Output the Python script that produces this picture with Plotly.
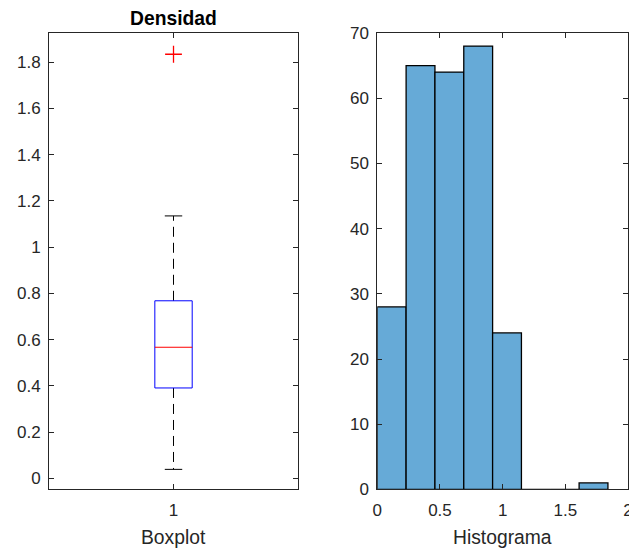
import plotly.graph_objects as go

# Summary statistics of the density sample (boxplot)
box_position = [1]
q1 = [0.391]
median = [0.567]
q3 = [0.768]
whisker_low = [0.039]
whisker_high = [1.135]
outliers = [1.834]

# Histogram of the same sample
bin_edges = [0.0, 0.23, 0.46, 0.69, 0.92, 1.15, 1.38, 1.61, 1.84]
bin_counts = [28, 65, 64, 68, 24, 0, 0, 1]

box_tickvals = [1]
box_ticktext = ["1"]
box_yticks = [0, 0.2, 0.4, 0.6, 0.8, 1, 1.2, 1.4, 1.6, 1.8]
hist_xticks = [0, 0.5, 1, 1.5, 2]
hist_yticks = [0, 10, 20, 30, 40, 50, 60, 70]

AX = "#262626"
FONT = "Liberation Sans, Arial, sans-serif"
BLUE = "#66AAD7"
TICK_SIZE = 17
LABEL_SIZE = 19.3

fig = go.Figure()

# ---- boxplot drawn from its statistics ----
pos = box_position[0]
half_box = 0.075
half_cap = 0.035

# dashed whiskers
fig.add_trace(go.Scatter(
    x=[pos, pos, None, pos, pos],
    y=[q3[0], whisker_high[0], None, q1[0], whisker_low[0]],
    mode="lines", line=dict(color="black", width=1, dash="10px,6px"),
    xaxis="x", yaxis="y", showlegend=False, hoverinfo="skip"))
# whisker caps
fig.add_trace(go.Scatter(
    x=[pos - half_cap, pos + half_cap, None, pos - half_cap, pos + half_cap],
    y=[whisker_high[0], whisker_high[0], None, whisker_low[0], whisker_low[0]],
    mode="lines", line=dict(color="black", width=1),
    xaxis="x", yaxis="y", showlegend=False, hoverinfo="skip"))
# box
fig.add_trace(go.Scatter(
    x=[pos - half_box, pos + half_box, pos + half_box, pos - half_box, pos - half_box],
    y=[q1[0], q1[0], q3[0], q3[0], q1[0]],
    mode="lines", line=dict(color="#0000FF", width=1),
    xaxis="x", yaxis="y", showlegend=False, hoverinfo="skip"))
# median
fig.add_trace(go.Scatter(
    x=[pos - half_box, pos + half_box],
    y=[median[0], median[0]],
    mode="lines", line=dict(color="#FF0000", width=1),
    xaxis="x", yaxis="y", showlegend=False, hoverinfo="skip"))
# outliers
fig.add_trace(go.Scatter(
    x=[pos] * len(outliers), y=outliers,
    mode="markers",
    marker=dict(symbol="cross-thin", size=12, line=dict(color="#FF0000", width=1.3)),
    xaxis="x", yaxis="y", showlegend=False, hoverinfo="skip"))

# ---- histogram ----
centers = [(a + b) / 2 for a, b in zip(bin_edges[:-1], bin_edges[1:])]
widths = [b - a for a, b in zip(bin_edges[:-1], bin_edges[1:])]
fig.add_trace(go.Bar(
    x=centers, y=bin_counts, width=widths,
    marker=dict(color=BLUE, line=dict(color="black", width=1.3)),
    xaxis="x2", yaxis="y2", showlegend=False))

axis_common = dict(
    showline=True, linecolor=AX, linewidth=1, mirror="allticks",
    ticks="inside", ticklen=5, tickwidth=1, tickcolor=AX,
    showgrid=False, zeroline=False, automargin=False,
    ticklabeloverflow="allow",
    tickfont=dict(family=FONT, size=TICK_SIZE, color=AX),
)
xaxis_common = dict(axis_common, ticklabelstandoff=5)
yaxis_common = dict(axis_common, ticklabelstandoff=4)

fig.update_layout(
    width=629, height=549,
    margin=dict(l=0, r=0, t=0, b=0),
    paper_bgcolor="white", plot_bgcolor="white",
    xaxis=dict(domain=[0.0779, 0.4738], range=[0.5, 1.5],
               tickvals=box_tickvals, ticktext=box_ticktext, anchor="y", **xaxis_common),
    yaxis=dict(domain=[0.1084, 0.9399], range=[-0.048, 1.926],
               tickvals=box_yticks, anchor="x", **yaxis_common),
    xaxis2=dict(domain=[0.5998, 0.9984], range=[0, 2],
                tickvals=hist_xticks, anchor="y2", **xaxis_common),
    yaxis2=dict(domain=[0.1084, 0.9399], range=[0, 70],
                tickvals=hist_yticks, anchor="x2", **yaxis_common),
    annotations=[
        dict(text="<b>Densidad</b>", x=0.2758, y=1 - 18 / 549, xref="paper", yref="paper",
             xanchor="center", yanchor="middle", showarrow=False,
             font=dict(family=FONT, size=LABEL_SIZE, color="black")),
        dict(text="Boxplot", x=0.2758, y=1 - 537 / 549, xref="paper", yref="paper",
             xanchor="center", yanchor="middle", showarrow=False,
             font=dict(family=FONT, size=LABEL_SIZE, color=AX)),
        dict(text="Histograma", x=(0.5998 + 0.9984) / 2, y=1 - 537 / 549, xref="paper", yref="paper",
             xanchor="center", yanchor="middle", showarrow=False,
             font=dict(family=FONT, size=LABEL_SIZE, color=AX)),
    ],
)

fig.write_html("out.html")
